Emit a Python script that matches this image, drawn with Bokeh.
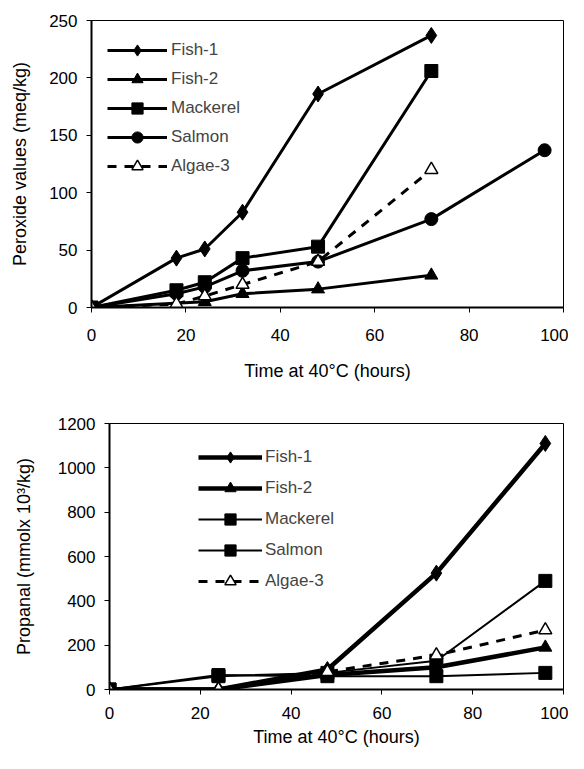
from bokeh.plotting import figure
from bokeh.models import Range1d, Legend, LegendItem, FixedTicker, Spacer
from bokeh.layouts import column, row
from bokeh.embed import file_html
from bokeh.resources import INLINE

# ---- data: top panel (peroxide values, meq/kg)
t_fish1 = [0, 18, 24, 32, 48, 72]
pv_fish1 = [0, 43, 51, 83, 186, 237]
t_fish2 = [0, 24, 32, 48, 72]
pv_fish2 = [0, 5, 12, 16, 28]
t_mack = [0, 18, 24, 32, 48, 72]
pv_mack = [0, 15, 22, 43, 53, 206]
t_salm = [0, 18, 24, 32, 48, 72, 96]
pv_salm = [0, 12, 18, 32, 40, 77, 137]
t_alg = [0, 18, 24, 32, 48, 72]
pv_alg = [0, 3, 10, 20, 40, 120]

# ---- data: bottom panel (propanal, mmol x 10^3/kg)
t_prop = [0, 24, 48, 72, 96]
pr_fish1 = [0, 0, 90, 525, 1110]
pr_fish2 = [0, 0, 65, 100, 190]
pr_mack = [0, 65, 60, 60, 75]
pr_salm = [0, 60, 75, 130, 490]
pr_alg = [0, 0, 80, 155, 268]

labels = ["Fish-1", "Fish-2", "Mackerel", "Salmon", "Algae-3"]
x_ticks = [0, 20, 40, 60, 80, 100]
y_ticks_top = [0, 50, 100, 150, 200, 250]
y_ticks_bot = [0, 200, 400, 600, 800, 1000, 1200]

FONT = "Liberation Sans"


def style(p, yticks, xstand, xlabstand, ylabstand):
    p.xgrid.visible = False
    p.ygrid.visible = False
    p.outline_line_color = "black"
    p.outline_line_width = 1
    p.xaxis.ticker = FixedTicker(ticks=x_ticks)
    p.yaxis.ticker = FixedTicker(ticks=yticks)
    for ax in (p.xaxis[0], p.yaxis[0]):
        ax.axis_line_color = "black"
        ax.axis_line_width = 2
        ax.major_tick_in = 0
        ax.major_tick_out = 5
        ax.major_tick_line_width = 1
        ax.minor_tick_line_color = None
        ax.major_label_text_font = FONT
        ax.major_label_text_font_size = "17px"
        ax.major_label_text_color = "black"
        ax.axis_label_text_font = FONT
        ax.axis_label_text_font_size = "18px"
        ax.axis_label_text_font_style = "normal"
        ax.axis_label_text_color = "black"
    p.xaxis.major_label_standoff = xstand
    p.xaxis.axis_label_standoff = xlabstand
    p.yaxis.major_label_standoff = 9
    p.yaxis.axis_label_standoff = ylabstand


ms = 13

# ---------------- top figure
p1 = figure(width=568, height=388, output_backend="svg", toolbar_location=None,
            x_range=Range1d(0, 100), y_range=Range1d(0, 250),
            min_border_left=91, min_border_right=5, min_border_top=20, min_border_bottom=81)
p1.xaxis.axis_label = "Time at 40\u00b0C (hours)"
p1.yaxis.axis_label = "Peroxide values (meq/kg)"
style(p1, y_ticks_top, 16, 17, 16)

lw = 3
r = []
l = p1.line(t_fish1, pv_fish1, line_color="black", line_width=lw)
m = p1.scatter(t_fish1, pv_fish1, marker="diamond", size=ms + 3, color="black")
r.append([l, m])
l = p1.line(t_fish2, pv_fish2, line_color="black", line_width=lw)
m = p1.scatter(t_fish2, pv_fish2, marker="triangle", size=ms, color="black")
r.append([l, m])
l = p1.line(t_mack, pv_mack, line_color="black", line_width=lw)
m = p1.scatter(t_mack, pv_mack, marker="square", size=ms, color="black")
r.append([l, m])
l = p1.line(t_salm, pv_salm, line_color="black", line_width=lw)
m = p1.scatter(t_salm, pv_salm, marker="circle", size=ms, color="black")
r.append([l, m])
l = p1.line(t_alg, pv_alg, line_color="black", line_width=lw, line_dash="9 8")
m = p1.scatter(t_alg, pv_alg, marker="triangle", size=ms, fill_color="white",
               line_color="black", line_width=1.5)
r.append([l, m])

leg1 = Legend(items=[LegendItem(label=lab, renderers=rr) for lab, rr in zip(labels, r)],
              location=(16, 127), margin=0, padding=0, border_line_color=None,
              background_fill_alpha=0, glyph_width=60, glyph_height=28,
              label_height=28, spacing=1, label_standoff=4,
              label_text_font=FONT, label_text_font_size="17px")
p1.add_layout(leg1)

# ---------------- bottom figure
p2 = figure(width=560, height=365, output_backend="svg", toolbar_location=None,
            x_range=Range1d(0, 100), y_range=Range1d(0, 1200),
            min_border_left=101, min_border_right=5, min_border_top=35, min_border_bottom=64)
p2.xaxis.axis_label = "Time at 40\u00b0C (hours)"
p2.yaxis.axis_label = "Propanal (mmolx 10\u00b3/kg)"
style(p2, y_ticks_bot, 12, 5, 21)

r2 = []
l = p2.line(t_prop, pr_fish1, line_color="black", line_width=4.5)
m = p2.scatter(t_prop, pr_fish1, marker="diamond", size=ms + 3, color="black")
r2.append([l, m])
l = p2.line(t_prop, pr_fish2, line_color="black", line_width=4.5)
m = p2.scatter(t_prop, pr_fish2, marker="triangle", size=ms, color="black")
r2.append([l, m])
l = p2.line(t_prop, pr_mack, line_color="black", line_width=2)
m = p2.scatter(t_prop, pr_mack, marker="square", size=ms, color="black")
r2.append([l, m])
l = p2.line(t_prop, pr_salm, line_color="black", line_width=2)
m = p2.scatter(t_prop, pr_salm, marker="square", size=ms, color="black")
r2.append([l, m])
l = p2.line(t_prop, pr_alg, line_color="black", line_width=3, line_dash="9 8")
m = p2.scatter(t_prop, pr_alg, marker="triangle", size=ms, fill_color="white",
               line_color="black", line_width=1.5)
r2.append([l, m])

leg2 = Legend(items=[LegendItem(label=lab, renderers=rr) for lab, rr in zip(labels, r2)],
              location=(89, 94), margin=0, padding=0, border_line_color=None,
              background_fill_alpha=0, glyph_width=64, glyph_height=28,
              label_height=28, spacing=3, label_standoff=3,
              label_text_font=FONT, label_text_font_size="17px")
p2.add_layout(leg2)

layout = column(p1, row(Spacer(width=8), p2))
open("out.html", "w").write(file_html(layout, INLINE))
